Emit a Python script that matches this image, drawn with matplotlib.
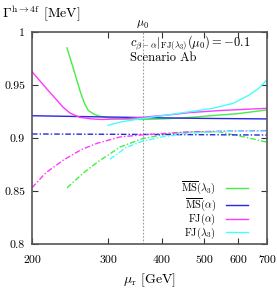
import matplotlib
matplotlib.use("Agg")
import matplotlib.pyplot as plt
from matplotlib.ticker import FixedLocator, FixedFormatter, NullLocator
from matplotlib.lines import Line2D

plt.rcParams['mathtext.fontset'] = 'cm'
plt.rcParams['font.family'] = ['cmr10', 'DejaVu Serif']
plt.rcParams['axes.unicode_minus'] = False

mu0 = 361

# MS-bar(lambda3) solid / dash-dot
ms_l3_mu = [241, 247, 253, 259, 265, 270, 278, 287, 300, 320, 361, 400, 450, 500, 600, 700]
ms_l3_v = [0.985, 0.971, 0.957, 0.943, 0.932, 0.926, 0.9225, 0.9205, 0.919, 0.918, 0.9175,
           0.918, 0.919, 0.9205, 0.923, 0.9265]
ms_l3_mu_d = [241, 263, 283, 320, 361, 420, 480, 543, 620, 700]
ms_l3_v_d = [0.853, 0.867, 0.877, 0.8915, 0.8995, 0.9045, 0.906, 0.9057, 0.901, 0.896]

# MS-bar(alpha)
ms_a_mu = [200, 300, 400, 500, 700]
ms_a_v = [0.921, 0.9198, 0.919, 0.9185, 0.918]
ms_a_mu_d = [200, 400, 700]
ms_a_v_d = [0.9038, 0.9033, 0.9028]

# FJ(alpha)
fj_a_mu = [200, 210, 220, 228, 236, 245, 258, 275, 290, 330, 361, 420, 464, 550, 700]
fj_a_v = [0.9626, 0.9525, 0.943, 0.936, 0.929, 0.9235, 0.9195, 0.918, 0.9175, 0.9182,
          0.9195, 0.922, 0.924, 0.926, 0.928]
fj_a_mu_d = [200, 215, 236, 260, 283, 320, 361, 450, 550, 700]
fj_a_v_d = [0.853, 0.867, 0.879, 0.889, 0.895, 0.901, 0.903, 0.9055, 0.9065, 0.907]

# FJ(lambda3)
fj_l3_mu = [300, 320, 361, 400, 464, 524, 584, 637, 670, 700]
fj_l3_v = [0.912, 0.915, 0.9185, 0.921, 0.9248, 0.928, 0.9327, 0.9406, 0.947, 0.9547]
fj_l3_mu_d = [303, 330, 361, 400, 450, 520, 600, 700]
fj_l3_v_d = [0.880, 0.891, 0.897, 0.901, 0.904, 0.9058, 0.9065, 0.9065]

labels = [r'$\overline{\mathrm{MS}}(\lambda_3)$', r'$\overline{\mathrm{MS}}(\alpha)$',
          r'$\mathrm{FJ}(\alpha)$', r'$\mathrm{FJ}(\lambda_3)$']
colors = ['#44ee44', '#2828e0', '#ff38ff', '#44ffff']

xticks = [200, 300, 400, 500, 600, 700]
yticks = [0.8, 0.85, 0.9, 0.95, 1.0]
yticklabels = ['0.8', '0.85', '0.9', '0.95', '1']

fig = plt.figure(figsize=(2.77, 2.91), dpi=100)
ax = fig.add_axes([32/277, 1-244/291, 235/277, 212/291])
ax.set_xscale('log')
ax.set_xlim(200, 700)
ax.set_ylim(0.8, 1.0)

ax.axvline(mu0, color='#999999', lw=0.8, ls=(0, (1.5, 1.5)), zorder=1)

series = [(ms_l3_mu, ms_l3_v, ms_l3_mu_d, ms_l3_v_d),
          (ms_a_mu, ms_a_v, ms_a_mu_d, ms_a_v_d),
          (fj_a_mu, fj_a_v, fj_a_mu_d, fj_a_v_d),
          (fj_l3_mu, fj_l3_v, fj_l3_mu_d, fj_l3_v_d)]
for (m, v, md, vd), c, lab in zip(series, colors, labels):
    ax.plot(m, v, color=c, lw=1.0, label=lab)
    ax.plot(md, vd, color=c, lw=1.0, ls=(0, (4, 1.5, 1, 1.5)))

ax.xaxis.set_major_locator(FixedLocator(xticks))
ax.xaxis.set_major_formatter(FixedFormatter([str(t) for t in xticks]))
ax.xaxis.set_minor_locator(NullLocator())
ax.yaxis.set_major_locator(FixedLocator(yticks))
ax.yaxis.set_major_formatter(FixedFormatter(yticklabels))
ax.tick_params(direction='in', top=True, right=True, length=4, width=0.8,
               labelsize=8.5, color='#333333')
ax.tick_params(axis='x', pad=8)
ax.tick_params(axis='y', pad=5)
for s in ax.spines.values():
    s.set_color('#555555')
    s.set_linewidth(1.2)

ax.text(0.417, 0.948, r'$c_{\beta-\alpha}|_{\mathrm{FJ}(\lambda_3)}(\mu_0) = -0.1$',
        transform=ax.transAxes, fontsize=9, va='center', ha='left')
ax.text(0.417, 0.88, 'Scenario Ab', transform=ax.transAxes, fontsize=9,
        va='center', ha='left')
ax.annotate(r'$\mu_0$', xy=(mu0, 1.0), xytext=(0, 1), textcoords='offset points',
            fontsize=8.5, ha='center', va='bottom', annotation_clip=False)

# legend drawn manually (right-aligned labels, sample lines to the right)
rows_y = [0.265, 0.185, 0.12, 0.055]
for c, lab, yy in zip(colors, labels, rows_y):
    ax.add_line(Line2D([0.826, 0.919], [yy, yy], color=c, lw=1.0,
                       transform=ax.transAxes))
    ax.text(0.783, yy - 0.015, lab, transform=ax.transAxes, fontsize=7.5,
            ha='right', va='baseline')

fig.text(0.008, 0.955, r'$\Gamma^{\mathrm{h}\to 4\mathrm{f}}$ [MeV]', fontsize=10,
         ha='left', va='center')
fig.text(0.54, 0.038, r'$\mu_\mathrm{r}$ [GeV]', fontsize=10, ha='center', va='center')

fig.savefig('out.png', dpi=100)
